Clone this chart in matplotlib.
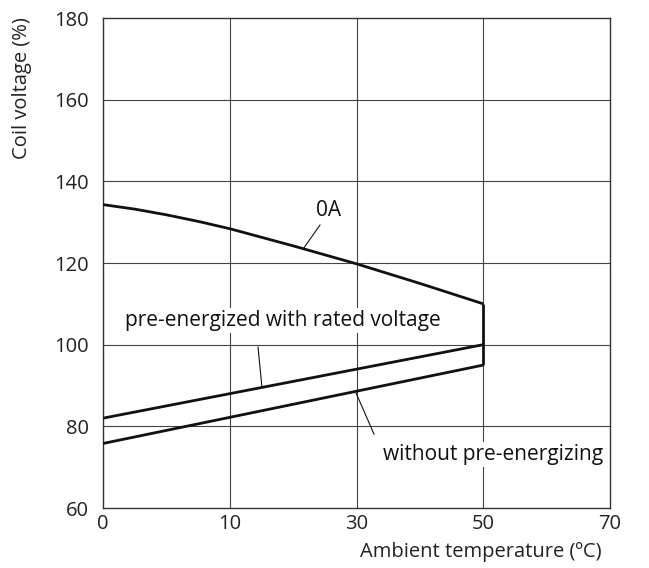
import numpy as np
import matplotlib
matplotlib.use("Agg")
import matplotlib.pyplot as plt

plt.rcParams['font.family'] = ['Open Sans', 'DejaVu Sans']

# Axis ticks: temperature labels are evenly spaced (non-linear scale)
temp_ticks = [0, 10, 30, 50, 70]
volt_ticks = [60, 80, 100, 120, 140, 160, 180]

# Curves (temperature in degC, coil voltage in %)
oa_temp = [0, 2.5, 5, 7.5, 10, 15, 20, 25, 30, 40, 50]
oa_volt = [134.3, 133.2, 131.8, 130.2, 128.4, 126.3, 124.2, 122.0, 119.8,
           115.0, 110]

pre_temp = [0, 50]
pre_volt = [82, 100]

without_temp = [0, 50]
without_volt = [75.8, 95]

# Vertical limit at 50 degC
limit_temp = [50, 50]
limit_volt = [95, 110]

tick_pos = np.arange(len(temp_ticks))


def tpos(t):
    return np.interp(t, temp_ticks, tick_pos)


fig = plt.figure(figsize=(6.49, 5.68), dpi=100)
ax = fig.add_axes([103 / 649, 1 - 508 / 568, 507 / 649, 490 / 568])

ax.set_xlim(0, 4)
ax.set_ylim(60, 180)
ax.set_xticks(tick_pos)
ax.set_xticklabels([str(t) for t in temp_ticks])
ax.set_yticks(volt_ticks)
ax.tick_params(length=0, labelsize=14.5, colors='#222222')
ax.tick_params(axis='y', pad=10)
ax.tick_params(axis='x', pad=4)
for s in ax.spines.values():
    s.set_color('#333333')
    s.set_linewidth(1.0)

grid_kw = dict(color='#444444', lw=0.8, zorder=1)
for p in tick_pos[1:-1]:
    ax.axvline(p, **grid_kw)
for v in volt_ticks[1:-1]:
    ax.axhline(v, **grid_kw)

line_kw = dict(color='#111111', lw=2.0, zorder=3, solid_capstyle='butt',
               solid_joinstyle='round')
ax.plot(tpos(oa_temp), oa_volt, **line_kw)
ax.plot(tpos(pre_temp), pre_volt, **line_kw)
ax.plot(tpos(without_temp), without_volt, **line_kw)
ax.plot(tpos(limit_temp), limit_volt, **line_kw)

# Leader lines
lead_kw = dict(color='#111111', lw=0.8, zorder=3)
ax.plot([1.712, 1.578], [129.3, 123.4], **lead_kw)
ax.plot([1.223, 1.254], [99.4, 89.6], **lead_kw)
ax.plot([1.996, 2.138], [88.2, 78.1], **lead_kw)

box = dict(facecolor='white', edgecolor='none', pad=1.5)
ax.text(1.783, 132.8, '0A', ha='center', va='center', fontsize=15,
        color='#111111', zorder=4)
ax.text(0.174, 106.0, 'pre-energized with rated voltage', ha='left',
        va='center', fontsize=15, color='#111111', bbox=box, zorder=4)
ax.text(2.209, 73.2, 'without pre-energizing', ha='left', va='center',
        fontsize=15, color='#111111', bbox=box, zorder=4)

fig.text(22 / 649, 1 - 88 / 568, 'Coil voltage (%)', rotation=90,
         ha='center', va='center', fontsize=14.5, color='#222222')
fig.text(602 / 649, 1 - 552 / 568, 'Ambient temperature (ºC)', ha='right',
         va='center', fontsize=14.5, color='#222222')

fig.savefig('out.png', dpi=100)
